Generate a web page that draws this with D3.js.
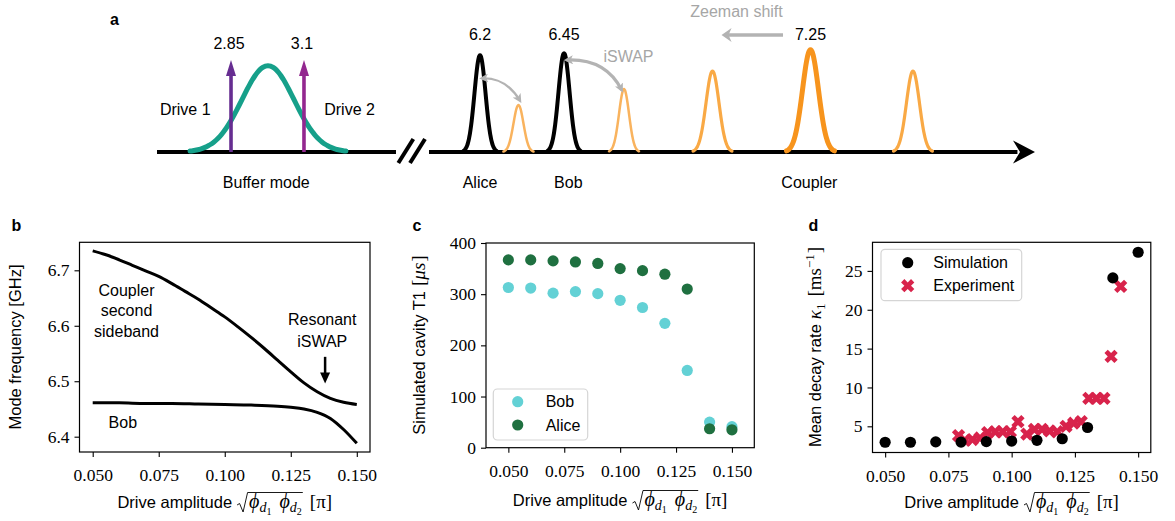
<!DOCTYPE html>
<html>
<head>
<meta charset="utf-8">
<script src="https://cdn.jsdelivr.net/npm/d3@7"></script>
<style>body{margin:0;background:#fff}</style>
</head>
<body>
<svg id="fig" width="1175" height="521"></svg>
<script>
// ---- panel a : schematic spectrum (position in % of the frequency axis, height in px units) ----
const peakPos    = [12.64, 36.79, 41.17, 46.36, 53.19, 63.27, 74.43, 86.10];
const peakHeight = [86.5, 97, 47, 99, 63, 81, 102.5, 81];
const peakSigma  = [2.96, 0.63, 0.57, 0.63, 0.57, 0.74, 0.91, 0.74];
const peakKind   = ["buffer", "cavity", "side", "cavity", "side", "side2", "coupler", "side2"];
const drivePos   = [8.43, 16.74];
const driveFreq  = ["2.85", "3.1"];
const driveName  = ["Drive 1", "Drive 2"];
const modeFreq   = ["6.2", "6.45", "7.25"];
const modeFreqAt = [36.79, 46.36, 74.43];
const modeName   = ["Buffer mode", "Alice", "Bob", "Coupler"];
const modeNameAt = [12.45, 36.79, 46.85, 74.3];

// ---- panel b : mode frequencies ----
const ampB = [0.05, 0.055, 0.06, 0.065, 0.07, 0.075, 0.08, 0.085, 0.09, 0.095, 0.1,
              0.105, 0.11, 0.115, 0.12, 0.125, 0.13, 0.135, 0.14, 0.145, 0.15];
const couplerFreq = [6.735, 6.728, 6.719, 6.709, 6.699, 6.689, 6.676, 6.662, 6.648, 6.632, 6.616,
                     6.598, 6.579, 6.559, 6.538, 6.517, 6.497, 6.481, 6.469, 6.462, 6.458];
const ampBob  = [0.05, 0.06, 0.07, 0.08, 0.09, 0.1, 0.11, 0.12, 0.125, 0.13, 0.135, 0.14, 0.145, 0.15];
const bobFreq = [6.461, 6.461, 6.460, 6.460, 6.459, 6.458, 6.457, 6.455, 6.453, 6.450, 6.444, 6.433, 6.413, 6.388];
const freqTicks = [6.4, 6.5, 6.6, 6.7];

// ---- panel c : simulated T1 ----
const ampC    = [0.05, 0.06, 0.07, 0.08, 0.09, 0.1, 0.11, 0.12, 0.13, 0.14, 0.15];
const bobT1   = [313, 312, 302, 305, 301, 288, 274, 243, 151, 50, 41];
const aliceT1 = [367, 367, 365, 363, 360, 350, 346, 339, 310, 37, 35];
const t1Ticks = [0, 100, 200, 300, 400];

// ---- panel d : decay rate ----
const simRate = [2.95, 2.95, 3.0, 2.97, 3.03, 3.1, 3.2, 3.4, 4.85, 24.1, 27.4];
const ampExp  = [0.079, 0.0815, 0.0845, 0.0875, 0.0905, 0.0935, 0.0965, 0.0995, 0.1025, 0.106, 0.109,
                 0.112, 0.115, 0.118, 0.1215, 0.1245, 0.1275, 0.1305, 0.1335, 0.1365, 0.1393, 0.1431];
const expRate = [3.8, 3.2, 3.3, 3.5, 4.2, 4.3, 4.3, 4.3, 5.6, 4.0, 4.6,
                 4.6, 4.4, 4.3, 5.0, 5.4, 5.6, 8.6, 8.6, 8.6, 14.0, 23.0];
const rateTicks = [5, 10, 15, 20, 25];

const ampTicks = [0.05, 0.075, 0.1, 0.125, 0.15];

const SANS = "'Liberation Sans', Arial, sans-serif";
const SERIF = "'Liberation Serif', 'DejaVu Serif', serif";
const LBL = 16.5;
const svg = d3.select("#fig");

// put a piece of text at x, return where it ends
function put(g, txt, x, y, fam, size, italic) {
	const t = g.append("text").attr("x", x).attr("y", y)
		.attr("font-family", fam).attr("font-size", size)
		.attr("font-style", italic ? "italic" : "normal").text(txt);
	return x + t.node().getComputedTextLength();
}

function panelLetter(txt, x, y) {
	svg.append("text").attr("x", x).attr("y", y).attr("font-family", SANS)
		.attr("font-size", 16).attr("font-weight", "bold").text(txt);
}

// "Drive amplitude sqrt(phi_d1 phi_d2) [pi]"
function xLabel(cx, cy) {
	const g = svg.append("g");
	let x = put(g, "Drive amplitude", 0, 0, SANS, LBL) + 5;
	const rx = x;
	x += 12;
	x = put(g, "ϕ", x, 0, SERIF, 20, true);
	x = put(g, "d", x, 3.5, SERIF, 14, true);
	x = put(g, "1", x, 7, SERIF, 10) + 8;
	x = put(g, "ϕ", x, 0, SERIF, 20, true);
	x = put(g, "d", x, 3.5, SERIF, 14, true);
	x = put(g, "2", x, 7, SERIF, 10) + 1;
	g.append("path")
		.attr("d", `M${rx},-3 L${rx + 2.5},-4.5 L${rx + 6},4 L${rx + 10.5},-15.5 L${x},-15.5`)
		.attr("fill", "none").attr("stroke", "#000").attr("stroke-width", 0.9);
	x = put(g, "[π]", x + 7, 0, SERIF, 19);
	g.attr("transform", `translate(${cx - x / 2},${cy})`);
}

function yLabel(cx, cy, build) {
	const g = svg.append("g");
	const w = build(g);
	g.attr("transform", `translate(${cx},${cy}) rotate(-90) translate(${-w / 2},0)`);
}

function drawAxes(x, y, yFormat) {
	const g = svg.append("g");
	const [x0, x1] = x.range(), [y0, y1] = y.range();
	const ax = g.append("g").attr("transform", `translate(0,${y0})`)
		.call(d3.axisBottom(x).tickValues(ampTicks).tickFormat(d3.format(".3f"))
			.tickSize(5).tickSizeOuter(0).tickPadding(12));
	const ay = g.append("g").attr("transform", `translate(${x0},0)`)
		.call(d3.axisLeft(y).tickValues(y.ticksList).tickFormat(yFormat)
			.tickSize(5).tickSizeOuter(0).tickPadding(5));
	[ax, ay].forEach(a => {
		a.select(".domain").remove();
		a.selectAll("line").attr("stroke-width", 1.1);
		a.selectAll("text").attr("font-family", SERIF).attr("font-size", 17.5).attr("fill", "#000");
	});
	g.append("rect").attr("x", x0).attr("y", y1).attr("width", x1 - x0).attr("height", y0 - y1)
		.attr("fill", "none").attr("stroke", "#000").attr("stroke-width", 1.2);
}

// ================= panel a =================
const aX = d3.scaleLinear().domain([0, 100]).range([157, 1035]);
const aY = d3.scaleLinear().domain([0, 100]).range([152, 52]);
const kindStyle = {
	buffer: { c: "#16a08a", w: 5 },
	cavity: { c: "#000000", w: 4 },
	side: { c: "#f9b35e", w: 2.5 },
	side2: { c: "#f9a945", w: 3.2 },
	coupler: { c: "#f7941d", w: 5 }
};
const gA = svg.append("g");
const peakLine = d3.line().x(d => aX(d[0])).y(d => aY(d[1])).curve(d3.curveBasis);

// axis baseline
gA.append("line").attr("x1", aX(0)).attr("x2", aX(27.22)).attr("y1", aY(0)).attr("y2", aY(0))
	.attr("stroke", "#000").attr("stroke-width", 4);
gA.append("line").attr("x1", aX(30.98)).attr("x2", aX(98)).attr("y1", aY(0)).attr("y2", aY(0))
	.attr("stroke", "#000").attr("stroke-width", 4);
gA.append("path")
	.attr("d", `M${aX(100)},${aY(0)} L${aX(100) - 22},${aY(0) - 11.5} L${aX(100) - 15},${aY(0)} L${aX(100) - 22},${aY(0) + 11.5} Z`)
	.attr("fill", "#000");
// axis break
[28.34, 29.67].forEach(p => {
	gA.append("line").attr("x1", aX(p) - 7.5).attr("y1", aY(0) + 11).attr("x2", aX(p) + 7.5).attr("y2", aY(0) - 13)
		.attr("stroke", "#000").attr("stroke-width", 4);
});

peakPos.forEach((c, i) => {
	const s = peakSigma[i], h = peakHeight[i];
	const pts = d3.range(0, 61).map(k => {
		const u = c - 3 * s + k * s / 10;
		return [u, h * Math.exp(-0.5 * ((u - c) / s) ** 2)];
	});
	const st = kindStyle[peakKind[i]];
	gA.append("path").attr("d", peakLine(pts)).attr("fill", "none")
		.attr("stroke", st.c).attr("stroke-width", st.w).attr("stroke-linecap", "round");
});

// drive tones
const driveColor = ["#662d91", "#93278f"];
drivePos.forEach((p, i) => {
	const xp = aX(p), tip = aY(92);
	gA.append("line").attr("x1", xp).attr("x2", xp).attr("y1", aY(0)).attr("y2", tip + 12)
		.attr("stroke", driveColor[i]).attr("stroke-width", 3.6);
	gA.append("path").attr("d", `M${xp},${tip} L${xp - 5},${tip + 16} L${xp + 5},${tip + 16} Z`)
		.attr("fill", driveColor[i]);
	gA.append("text").attr("x", xp - 2).attr("y", 48.5).attr("text-anchor", "middle")
		.attr("font-family", SANS).attr("font-size", 16).text(driveFreq[i]);
});
[3.22, 21.93].forEach((p, i) => {
	gA.append("text").attr("x", aX(p)).attr("y", 115).attr("text-anchor", "middle")
		.attr("font-family", SANS).attr("font-size", 16).text(driveName[i]);
});
modeFreq.forEach((t, i) => {
	gA.append("text").attr("x", aX(modeFreqAt[i])).attr("y", 40).attr("text-anchor", "middle")
		.attr("font-family", SANS).attr("font-size", 16).text(t);
});
modeName.forEach((t, i) => {
	gA.append("text").attr("x", aX(modeNameAt[i])).attr("y", 188).attr("text-anchor", "middle")
		.attr("font-family", SANS).attr("font-size", 16).text(t);
});

// gray iSWAP arrows
const defs = svg.append("defs");
defs.append("marker").attr("id", "gh").attr("viewBox", "0 0 10 10").attr("refX", 7).attr("refY", 5)
	.attr("markerWidth", 9).attr("markerHeight", 9).attr("markerUnits", "userSpaceOnUse")
	.attr("orient", "auto-start-reverse")
	.append("path").attr("d", "M0,0 L10,5 L0,10 L2.5,5 Z").attr("fill", "#b3b3b3");
const swaps = [
	{ a: [37.0, 73.7], c: [39.72, 74.9], b: [41.34, 51.3], w: 2.2 },
	{ a: [46.66, 92], c: [51.1, 93.7], b: [52.92, 62], w: 3.2 }
];
swaps.forEach(s => {
	gA.append("path")
		.attr("d", `M${aX(s.a[0])},${aY(s.a[1])} Q${aX(s.c[0])},${aY(s.c[1])} ${aX(s.b[0])},${aY(s.b[1])}`)
		.attr("fill", "none").attr("stroke", "#b3b3b3").attr("stroke-width", s.w)
		.attr("marker-start", "url(#gh)").attr("marker-end", "url(#gh)");
});
gA.append("text").attr("x", aX(53.7)).attr("y", 62).attr("text-anchor", "middle")
	.attr("font-family", SANS).attr("font-size", 16).attr("fill", "#a6a6a6").text("iSWAP");
// Zeeman shift
const zy = aY(117);
gA.append("line").attr("x1", aX(71.3)).attr("x2", aX(65.0)).attr("y1", zy).attr("y2", zy)
	.attr("stroke", "#b3b3b3").attr("stroke-width", 3.5);
gA.append("path")
	.attr("d", `M${aX(64.3)},${zy} L${aX(64.3) + 10},${zy - 7} L${aX(64.3) + 7},${zy} L${aX(64.3) + 10},${zy + 7} Z`)
	.attr("fill", "#b3b3b3");
gA.append("text").attr("x", aX(66.0)).attr("y", 17).attr("text-anchor", "middle")
	.attr("font-family", SANS).attr("font-size", 16).attr("fill", "#a6a6a6").text("Zeeman shift");
panelLetter("a", 110, 25);

// ================= panel b =================
const xB = d3.scaleLinear().domain([0.045, 0.155]).range([79.5, 370]);
const yB = d3.scaleLinear().domain([6.3724, 6.7505]).range([452, 242.3]);
yB.ticksList = freqTicks;
drawAxes(xB, yB, d3.format(".1f"));
const lineB = d3.line().x(d => xB(d[0])).y(d => yB(d[1])).curve(d3.curveMonotoneX);
svg.append("path").attr("d", lineB(d3.zip(ampB, couplerFreq))).attr("fill", "none")
	.attr("stroke", "#000").attr("stroke-width", 3);
svg.append("path").attr("d", lineB(d3.zip(ampBob, bobFreq))).attr("fill", "none")
	.attr("stroke", "#000").attr("stroke-width", 3);
["Coupler", "second", "sideband"].forEach((t, i) => {
	svg.append("text").attr("x", xB(0.0628)).attr("y", 296 + i * 20.4).attr("text-anchor", "middle")
		.attr("font-family", SANS).attr("font-size", 16).text(t);
});
["Resonant", "iSWAP"].forEach((t, i) => {
	svg.append("text").attr("x", xB(0.1369)).attr("y", 325 + i * 21.5).attr("text-anchor", "middle")
		.attr("font-family", SANS).attr("font-size", 16).text(t);
});
{
	const ax = xB(0.138), a0 = yB(6.544), a1 = yB(6.496);
	svg.append("line").attr("x1", ax).attr("x2", ax).attr("y1", a0).attr("y2", a1 - 8)
		.attr("stroke", "#000").attr("stroke-width", 2.5);
	svg.append("path").attr("d", `M${ax},${a1} L${ax - 5},${a1 - 11} L${ax + 5},${a1 - 11} Z`).attr("fill", "#000");
}
svg.append("text").attr("x", xB(0.0614)).attr("y", yB(6.415)).attr("text-anchor", "middle")
	.attr("font-family", SANS).attr("font-size", 16).text("Bob");
xLabel((79.5 + 370) / 2, 508);
yLabel(21, 347, g => put(g, "Mode frequency [GHz]", 0, 0, SANS, LBL));
panelLetter("b", 11.5, 230.5);

// ================= panel c =================
const xC = d3.scaleLinear().domain([0.04, 0.16]).range([486, 754.3]);
const yC = d3.scaleLinear().domain([0, 400]).range([447.7, 243]);
yC.ticksList = t1Ticks;
drawAxes(xC, yC, d3.format("d"));
const bobColor = "#63d1d5", aliceColor = "#1f7040";
svg.append("g").selectAll("circle").data(d3.zip(ampC, bobT1)).join("circle")
	.attr("cx", d => xC(d[0])).attr("cy", d => yC(d[1])).attr("r", 5.6).attr("fill", bobColor);
svg.append("g").selectAll("circle").data(d3.zip(ampC, aliceT1)).join("circle")
	.attr("cx", d => xC(d[0])).attr("cy", d => yC(d[1])).attr("r", 5.6).attr("fill", aliceColor);
{
	const lg = svg.append("g");
	lg.append("rect").attr("x", 493.3).attr("y", 389).attr("width", 94.4).attr("height", 51)
		.attr("rx", 4).attr("fill", "#fff").attr("fill-opacity", 0.8).attr("stroke", "#d5d5d5").attr("stroke-width", 1.2);
	[["Bob", bobColor], ["Alice", aliceColor]].forEach((e, i) => {
		const yy = 401.7 + i * 23.3;
		lg.append("circle").attr("cx", 517.7).attr("cy", yy).attr("r", 5.6).attr("fill", e[1]);
		lg.append("text").attr("x", 545.7).attr("y", yy + 5.6).attr("font-family", SANS).attr("font-size", 16).text(e[0]);
	});
}
xLabel((486 + 754.3) / 2, 506);
yLabel(425, 345, g => {
	let x = put(g, "Simulated cavity T1", 0, 0, SANS, LBL) + 5;
	x = put(g, "[", x, 0, SERIF, 19);
	x = put(g, "μs", x, 0, SERIF, 19, true) + 1;
	return put(g, "]", x, 0, SERIF, 19);
});
panelLetter("c", 412.5, 230.5);

// ================= panel d =================
const xD = d3.scaleLinear().domain([0.045, 0.155]).range([872.5, 1150.8]);
const yD = d3.scaleLinear().domain([1.63, 28.68]).range([452.5, 242.3]);
yD.ticksList = rateTicks;
drawAxes(xD, yD, d3.format("d"));
const expColor = "#d8234b";
const xMark = d3.symbol(d3.symbolCross, 110);
svg.append("g").selectAll("path").data(d3.zip(ampExp, expRate)).join("path")
	.attr("d", xMark).attr("fill", expColor)
	.attr("transform", d => `translate(${xD(d[0])},${yD(d[1])}) rotate(45)`);
svg.append("g").selectAll("circle").data(d3.zip(ampC, simRate)).join("circle")
	.attr("cx", d => xD(d[0])).attr("cy", d => yD(d[1])).attr("r", 5.6).attr("fill", "#000");
{
	const lg = svg.append("g");
	lg.append("rect").attr("x", 881).attr("y", 249.3).attr("width", 140.7).attr("height", 51.4)
		.attr("rx", 4).attr("fill", "#fff").attr("fill-opacity", 0.8).attr("stroke", "#d5d5d5").attr("stroke-width", 1.2);
	lg.append("circle").attr("cx", 907.7).attr("cy", 262.7).attr("r", 5.6).attr("fill", "#000");
	lg.append("path").attr("d", xMark).attr("fill", expColor).attr("transform", "translate(907.7,285.7) rotate(45)");
	lg.append("text").attr("x", 933.3).attr("y", 268.3).attr("font-family", SANS).attr("font-size", 16).text("Simulation");
	lg.append("text").attr("x", 933.3).attr("y", 291.3).attr("font-family", SANS).attr("font-size", 16).text("Experiment");
}
xLabel((872.5 + 1150.8) / 2, 508);
yLabel(821, 347, g => {
	let x = put(g, "Mean decay rate", 0, 0, SANS, LBL) + 5;
	x = put(g, "κ", x, 0, SERIF, 19, true);
	x = put(g, "1", x, 4, SERIF, 13) + 7;
	x = put(g, "[ms", x, 0, SERIF, 19);
	x = put(g, "−1", x, -7, SERIF, 13) + 1;
	return put(g, "]", x, 0, SERIF, 19);
});
panelLetter("d", 808.5, 230.5);
</script>
</body>
</html>
